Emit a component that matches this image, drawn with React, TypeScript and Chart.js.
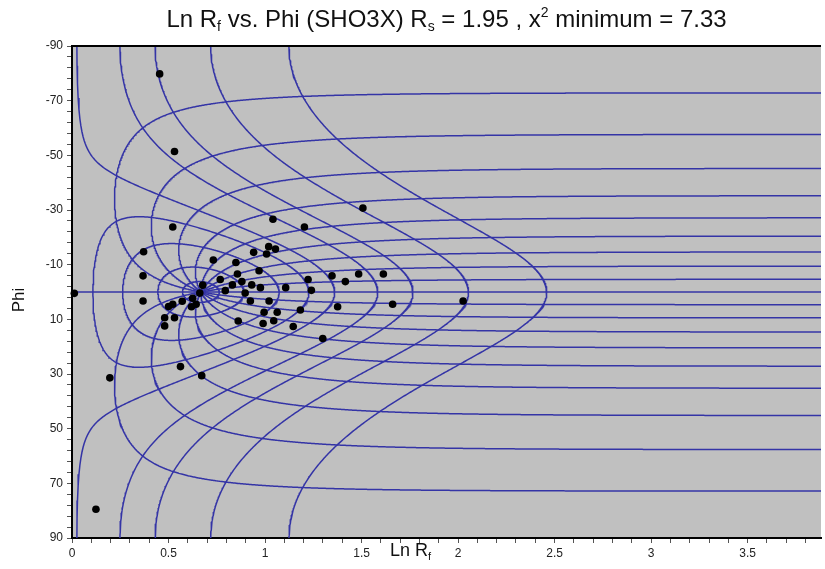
import React, { useEffect, useRef } from 'react';
import { Chart, registerables } from 'chart.js';

Chart.register(...registerables);

// Values read from the title
const RS = 1.95;
const CHI2_MIN = 7.33;
const SAMPLE_NAME = 'SHO3X';

// Reference grid: curves of constant initial ratio Ri, and of constant initial orientation theta (deg)
const RI_CURVES = [1.1, 1.25, 1.5, 1.75, 2, 2.5, 3, 4, 6];
const THETA_CURVES = [-81, -72, -63, -54, -45, -36, -27, -18, -9, 0, 9, 18, 27, 36, 45, 54, 63, 72, 81, 90];

// Measured markers (ln Rf, Phi in degrees)
const LN_RF = [
  0.012, 0.454, 0.531, 1.507, 0.124, 0.196, 0.522, 0.371, 0.368, 0.368,
  0.562, 0.672, 0.732, 0.677, 0.662, 0.625, 0.643, 0.619, 0.571, 0.522,
  0.5, 0.48, 0.531, 0.48, 0.768, 0.849, 0.857, 0.88, 0.831, 0.794,
  0.897, 0.931, 0.924, 0.861, 0.941, 1.041, 1.204, 1.019, 1.054, 1.008,
  0.969, 0.976, 1.107, 1.223, 1.24, 1.021, 0.995, 1.063, 1.183, 0.99,
  1.045, 1.146, 1.347, 1.416, 1.485, 1.613, 1.661, 1.376, 1.299, 2.026,
];
const PHI = [
  0.5, -79.8, -51.4, -30.7, 79.5, 31.4, -23.8, -14.7, -5.9, 3.3,
  27.3, 30.6, -11.7, -2.5, 0.4, 2.3, 4.5, 5.4, 3.4, 4.5,
  5.3, 9.4, 9.4, 12.4, -4.6, -10.8, -6.6, -3.8, -2.6, -0.5,
  0.4, -2.6, 3.3, 10.6, -14.5, -26.6, -23.8, -16.6, -15.7, -13.9,
  -7.8, -1.6, -1.6, -4.6, -0.6, 3.3, 7.4, 7.4, 6.6, 11.5,
  10.5, 12.6, -5.9, -3.8, -6.6, -6.6, 4.5, 5.4, 17.0, 3.3,
];

// Axes
const X_MIN = 0;
const X_MAX = 3.88;
const X_MINOR_STEP = 0.1;
const X_TICK_LABELS = [0, 0.5, 1, 1.5, 2, 2.5, 3, 3.5];
const Y_MIN = -90;
const Y_MAX = 90;
const Y_MINOR_STEP = 4;
const Y_TICK_LABELS = [-90, -70, -50, -30, -10, 10, 30, 50, 70, 90];

const PLOT_BG = '#c0c0c0';
const CURVE_COLOR = '#3434a6';
const FONT = '"Liberation Sans", Arial, sans-serif';

// Final ellipse (ln Rf, phi) of an initial ellipse (Ri, theta) after strain RS
function deform(ri: number, thetaDeg: number) {
  const t = (thetaDeg * Math.PI) / 180;
  const c = Math.cos(t), s = Math.sin(t);
  const a11 = ri * c * c + (s * s) / ri;
  const a22 = ri * s * s + (c * c) / ri;
  const a12 = (ri - 1 / ri) * s * c;
  const b11 = RS * a11;
  const b22 = a22 / RS;
  const b12 = a12;
  const half = (b11 + b22) / 2;
  const l1 = half + Math.sqrt(Math.max(half * half - 1, 0));
  const phi = (0.5 * Math.atan2(2 * b12, b11 - b22) * 180) / Math.PI;
  return { x: Math.log(l1), y: phi };
}

function riCurve(ri: number) {
  const pts: { x: number; y: number }[] = [];
  for (let k = 0; k <= 720; k++) pts.push(deform(ri, -90 + k * 0.25));
  return pts;
}

function thetaCurve(theta: number) {
  const pts: { x: number; y: number }[] = [];
  const lnMax = Math.abs(theta) === 90 ? Math.log(RS) : 5;
  const n = 1000;
  for (let k = 0; k <= n; k++) {
    const lr = (lnMax * k) / n;
    if (Math.abs(theta) === 90) {
      pts.push({ x: Math.log(RS) - lr, y: 0 });
    } else {
      pts.push(deform(Math.exp(lr), theta));
    }
  }
  return pts;
}

function range(min: number, max: number, step: number) {
  const out: number[] = [];
  const n = Math.floor((max - min) / step + 1e-9);
  for (let k = 0; k <= n; k++) out.push(Math.round((min + k * step) * 1000) / 1000);
  return out;
}

const decor = {
  id: 'decor',
  beforeDraw(chart: any) {
    const { ctx, chartArea: a } = chart;
    ctx.save();
    ctx.fillStyle = PLOT_BG;
    ctx.fillRect(a.left, a.top, a.right - a.left, a.bottom - a.top);
    ctx.restore();
  },
  afterDraw(chart: any) {
    const { ctx, chartArea: a, width } = chart;
    ctx.save();
    // top frame line
    ctx.strokeStyle = '#000';
    ctx.lineWidth = 2;
    ctx.beginPath();
    ctx.moveTo(a.left, a.top);
    ctx.lineTo(a.right, a.top);
    ctx.stroke();

    // title with sub/superscripts
    const main = `24px ${FONT}`;
    const small = `14px ${FONT}`;
    const segs: { t: string; k: 'n' | 'sub' | 'sup' }[] = [
      { t: 'Ln R', k: 'n' },
      { t: 'f', k: 'sub' },
      { t: ` vs. Phi (${SAMPLE_NAME}) R`, k: 'n' },
      { t: 's', k: 'sub' },
      { t: ` = ${RS} , x`, k: 'n' },
      { t: '2', k: 'sup' },
      { t: ` minimum = ${CHI2_MIN}`, k: 'n' },
    ];
    let total = 0;
    const widths = segs.map((s) => {
      ctx.font = s.k === 'n' ? main : small;
      const w = ctx.measureText(s.t).width;
      total += w;
      return w;
    });
    let x = (a.left + a.right) / 2 - total / 2;
    const base = 27;
    ctx.fillStyle = '#111';
    ctx.textBaseline = 'alphabetic';
    ctx.textAlign = 'left';
    segs.forEach((s, i) => {
      ctx.font = s.k === 'n' ? main : small;
      const dy = s.k === 'sub' ? 4 : s.k === 'sup' ? -10 : 0;
      ctx.fillText(s.t, x, base + dy);
      x += widths[i];
    });

    // x axis title
    const xm = `18px ${FONT}`;
    const xs = `11px ${FONT}`;
    ctx.font = xm;
    const w1 = ctx.measureText('Ln R').width;
    ctx.font = xs;
    const w2 = ctx.measureText('f').width;
    const xx = width / 2 - (w1 + w2) / 2 - 2;
    ctx.font = xm;
    ctx.fillText('Ln R', xx, 556);
    ctx.font = xs;
    ctx.fillText('f', xx + w1, 560);

    // y axis title
    ctx.translate(19, (a.top + a.bottom) / 2 + 8);
    ctx.rotate(-Math.PI / 2);
    ctx.font = `17px ${FONT}`;
    ctx.textAlign = 'center';
    ctx.textBaseline = 'middle';
    ctx.fillText('Phi', 0, 0);
    ctx.restore();
  },
};

export default function App() {
  const ref = useRef<HTMLCanvasElement>(null);

  useEffect(() => {
    document.body.style.margin = '0';
    const lineDs = (data: { x: number; y: number }[]) => ({
      type: 'scatter' as const,
      data,
      showLine: true,
      borderColor: CURVE_COLOR,
      borderWidth: 1.5,
      pointRadius: 0,
      pointHoverRadius: 0,
      tension: 0,
      clip: 0,
      order: 1,
    });
    const datasets: any[] = [
      {
        type: 'scatter',
        data: LN_RF.map((v, i) => ({ x: v, y: PHI[i] })),
        pointRadius: 3.8,
        pointBackgroundColor: '#000',
        pointBorderWidth: 0,
        showLine: false,
        clip: false,
        order: 0,
      },
      ...RI_CURVES.map((ri) => lineDs(riCurve(ri))),
      ...THETA_CURVES.map((th) => lineDs(thetaCurve(th))),
    ];
    const tickFont = { family: FONT, size: 12 };
    const chart = new Chart(ref.current as HTMLCanvasElement, {
      type: 'scatter',
      data: { datasets },
      plugins: [decor],
      options: {
        animation: false,
        responsive: false,
        events: [],
        layout: { padding: { top: 46, left: 0, right: 0, bottom: 0 } },
        plugins: { legend: { display: false }, tooltip: { enabled: false }, title: { display: false } },
        scales: {
          x: {
            type: 'linear',
            min: X_MIN,
            max: X_MAX,
            afterBuildTicks: (s: any) => {
              s.ticks = range(X_MIN, X_MAX, X_MINOR_STEP).map((v) => ({ value: v }));
            },
            afterFit: (s: any) => {
              s.height = 31;
            },
            ticks: {
              autoSkip: false,
              maxRotation: 0,
              padding: 3,
              color: '#222',
              font: tickFont,
              callback: (v: any) =>
                X_TICK_LABELS.some((t) => Math.abs(t - v) < 1e-6) ? String(Number(Number(v).toFixed(1))) : '',
            },
            grid: { display: true, drawOnChartArea: false, drawTicks: true, tickLength: 5, color: '#555', lineWidth: 1 },
            border: { display: true, color: '#000', width: 2 },
          },
          y: {
            type: 'linear',
            reverse: true,
            min: Y_MIN,
            max: Y_MAX,
            afterBuildTicks: (s: any) => {
              s.ticks = range(Y_MIN, Y_MAX, Y_MINOR_STEP).map((v) => ({ value: v }));
            },
            afterFit: (s: any) => {
              s.width = 72;
            },
            ticks: {
              autoSkip: false,
              padding: 4,
              color: '#222',
              font: tickFont,
              callback: (v: any) => (Y_TICK_LABELS.some((t) => Math.abs(t - v) < 1e-6) ? String(Math.round(v)) : ''),
            },
            grid: { display: true, drawOnChartArea: false, drawTicks: true, tickLength: 5, color: '#555', lineWidth: 1 },
            border: { display: true, color: '#000', width: 2 },
          },
        },
      } as any,
    });
    return () => chart.destroy();
  }, []);

  return (
    <div style={{ width: 825, height: 569 }}>
      <canvas ref={ref} width={825} height={569} style={{ display: 'block' }} />
    </div>
  );
}
